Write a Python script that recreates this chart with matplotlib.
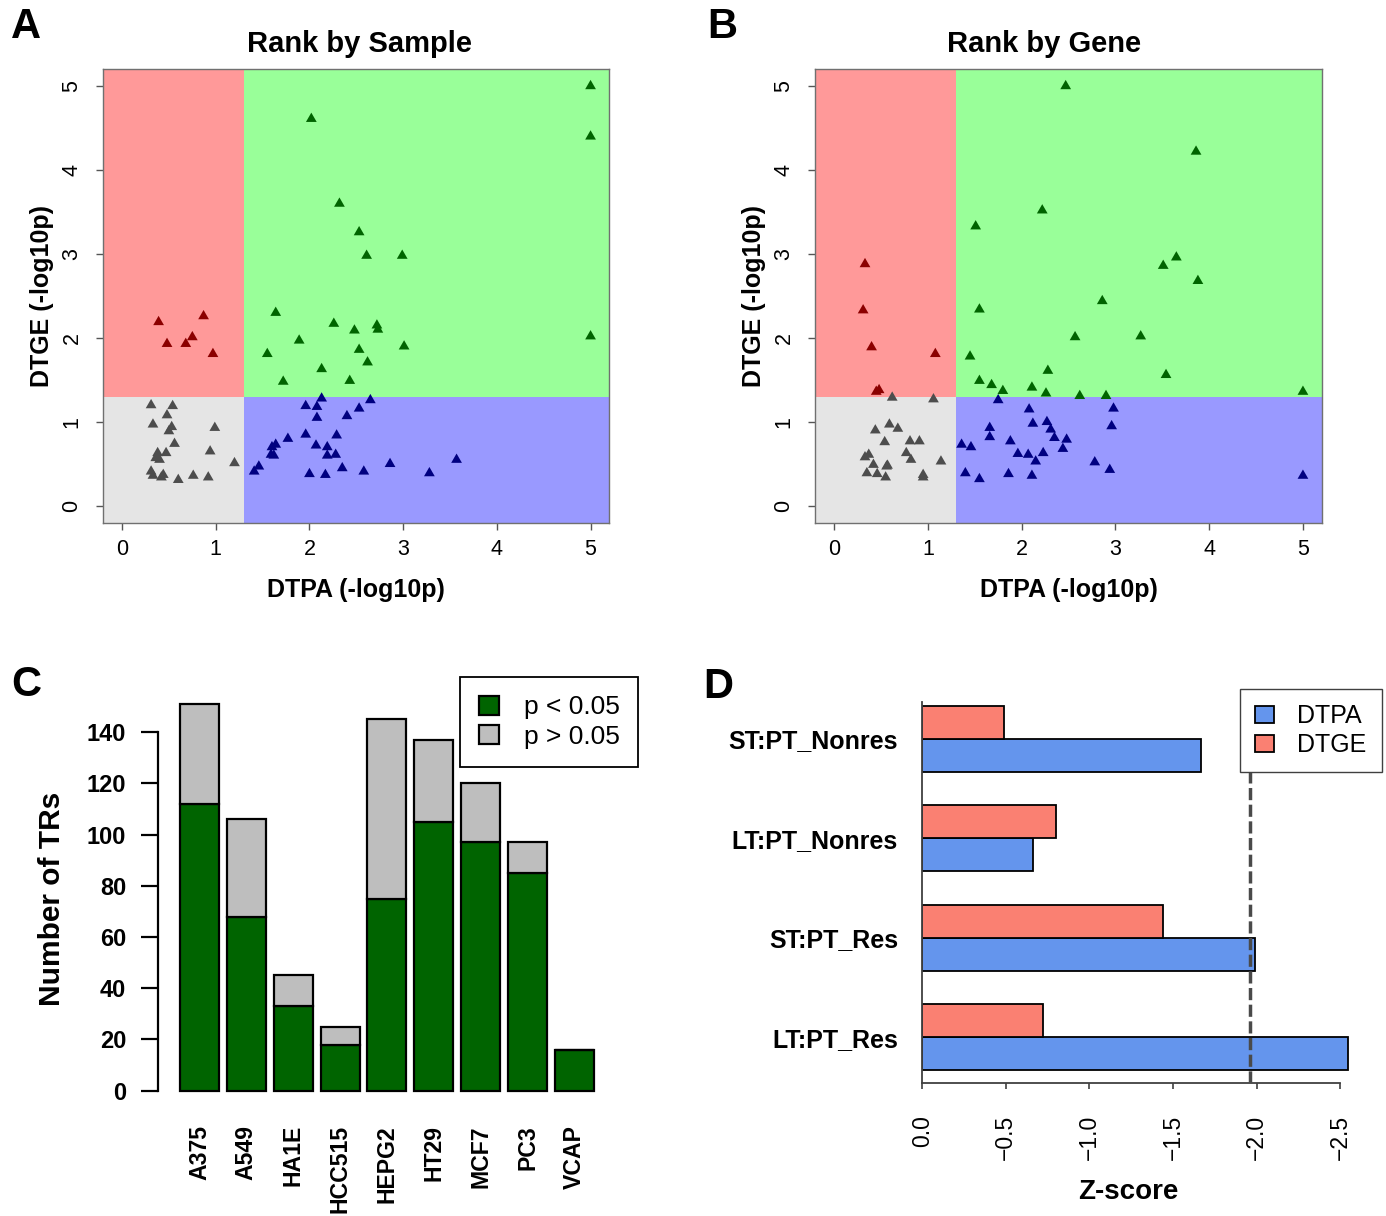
import numpy as np
import matplotlib
matplotlib.use('Agg')
import matplotlib.pyplot as plt
from matplotlib.patches import Rectangle, Patch

plt.rcParams['font.family'] = ['Liberation Sans', 'DejaVu Sans']

# ---- data: panel A (rank by sample), one pair of lists per quadrant
a_green_x = [5.00, 5.00, 2.02, 2.32, 2.53, 2.61, 2.99, 1.64, 2.26, 2.48, 2.72, 2.73, 1.89, 1.55, 2.53, 3.01, 5.00, 2.62, 2.13, 1.72, 2.43]
a_green_y = [5.00, 4.40, 4.61, 3.60, 3.26, 2.98, 2.98, 2.30, 2.17, 2.09, 2.15, 2.10, 1.97, 1.81, 1.86, 1.90, 2.02, 1.71, 1.63, 1.48, 1.49]
a_red_x = [0.39, 0.87, 0.48, 0.68, 0.75, 0.97]
a_red_y = [2.19, 2.26, 1.93, 1.93, 2.01, 1.81]
a_gray_x = [0.31, 0.54, 0.48, 0.33, 0.53, 0.50, 0.99, 0.56, 0.38, 0.47, 0.36, 0.40, 0.94, 1.20, 0.31, 0.33, 0.44, 0.42, 0.60, 0.76, 0.92]
a_gray_y = [1.20, 1.19, 1.08, 0.97, 0.94, 0.89, 0.93, 0.74, 0.63, 0.63, 0.57, 0.55, 0.65, 0.51, 0.41, 0.36, 0.37, 0.34, 0.31, 0.36, 0.34]
a_blue_x = [2.13, 2.65, 1.96, 2.08, 2.53, 2.08, 2.40, 1.96, 2.29, 1.77, 1.64, 1.60, 2.07, 2.19, 1.59, 1.62, 2.19, 2.28, 1.46, 1.41, 2.00, 2.17, 2.35, 2.58, 2.86, 3.28, 3.57]
a_blue_y = [1.28, 1.26, 1.19, 1.18, 1.16, 1.05, 1.07, 0.85, 0.84, 0.80, 0.73, 0.70, 0.72, 0.70, 0.61, 0.60, 0.60, 0.61, 0.47, 0.41, 0.38, 0.37, 0.45, 0.41, 0.50, 0.39, 0.55]

# ---- data: panel B (rank by gene)
b_green_x = [2.47, 3.86, 2.22, 1.51, 3.51, 3.65, 3.88, 2.86, 1.55, 2.57, 3.27, 1.45, 2.28, 3.54, 1.55, 1.68, 1.80, 2.11, 2.26, 2.62, 2.90, 5.00]
b_green_y = [5.00, 4.22, 3.52, 3.33, 2.86, 2.96, 2.68, 2.44, 2.34, 2.01, 2.02, 1.78, 1.61, 1.56, 1.49, 1.44, 1.37, 1.41, 1.34, 1.31, 1.31, 1.36]
b_red_x = [0.33, 0.31, 0.40, 1.08, 0.45, 0.48]
b_red_y = [2.88, 2.33, 1.89, 1.81, 1.36, 1.38]
b_gray_x = [0.62, 1.06, 0.59, 0.44, 0.68, 0.54, 0.81, 0.91, 0.37, 0.33, 0.77, 0.82, 0.42, 1.14, 0.56, 0.57, 0.35, 0.46, 0.55, 0.95, 0.95]
b_gray_y = [1.29, 1.27, 0.97, 0.90, 0.92, 0.76, 0.77, 0.77, 0.61, 0.58, 0.63, 0.55, 0.49, 0.53, 0.47, 0.48, 0.39, 0.38, 0.34, 0.37, 0.34]
b_blue_x = [1.75, 2.08, 2.98, 1.66, 2.12, 2.27, 2.31, 2.96, 1.66, 2.35, 2.48, 1.88, 1.36, 1.46, 2.44, 1.96, 2.07, 2.23, 2.15, 2.78, 2.94, 1.40, 1.55, 1.86, 2.11, 5.00]
b_blue_y = [1.26, 1.15, 1.16, 0.93, 0.98, 1.00, 0.91, 0.95, 0.82, 0.81, 0.79, 0.77, 0.73, 0.70, 0.68, 0.62, 0.61, 0.63, 0.53, 0.52, 0.43, 0.39, 0.32, 0.38, 0.36, 0.36]

# ---- data: panel C
cell_lines = ['A375', 'A549', 'HA1E', 'HCC515', 'HEPG2', 'HT29', 'MCF7', 'PC3', 'VCAP']
n_sig = [112, 68, 33, 18, 75, 105, 97, 85, 16]
n_total = [151, 106, 45, 25, 145, 137, 120, 97, 16]

# ---- data: panel D (top to bottom as shown)
comparisons = ['ST:PT_Nonres', 'LT:PT_Nonres', 'ST:PT_Res', 'LT:PT_Res']
z_dtpa = [-1.67, -0.66, -1.99, -2.55]
z_dtge = [-0.49, -0.80, -1.44, -0.72]
z_crit = -1.96

W, H = 1386, 1216


def px_box(left, top, right, bottom):
    return [left / W, 1 - bottom / H, (right - left) / W, (bottom - top) / H]


fig = plt.figure(figsize=(W / 100, H / 100), dpi=100)

thr = -np.log10(0.05)
lo, hi = -0.2, 5.2


def quadrant_panel(ax, groups, title, title_x):
    regions = [((lo, lo), '#e5e5e5'), ((lo, thr), '#ff9999'),
               ((thr, thr), '#99ff99'), ((thr, lo), '#9999ff')]
    for (x0, y0), col in regions:
        w = (thr - lo) if x0 == lo else (hi - thr)
        h = (thr - lo) if y0 == lo else (hi - thr)
        ax.add_patch(Rectangle((x0, y0), w, h, fc=col, ec='none', zorder=0))
    for xs, ys, col in groups:
        ax.scatter(xs, ys, marker=(3, 0, 0), s=80, c=col, edgecolors='none', zorder=3)
    ax.set_xlim(lo, hi)
    ax.set_ylim(lo, hi)
    ax.set_xticks(range(6))
    ax.set_yticks(range(6))
    for sp in ax.spines.values():
        sp.set_color('#707070')
        sp.set_linewidth(1.0)
    ax.tick_params(axis='both', colors='#555555', labelcolor='black', labelsize=15.5, length=5, width=1)
    ax.tick_params(axis='x', pad=7)
    ax.tick_params(axis='y', pad=10, labelrotation=90)
    for lab in ax.get_yticklabels():
        lab.set_va('center')
    ax.set_xlabel('DTPA (-log10p)', fontsize=18, fontweight='bold', va='center')
    ax.set_ylabel('DTGE (-log10p)', fontsize=18, fontweight='bold', va='center')
    ax.xaxis.set_label_coords(0.5, -0.148)
    ax.yaxis.set_label_coords(-0.122, 0.5)
    ax.set_title(title, fontsize=21, fontweight='bold', x=title_x, pad=12.5)


axa = fig.add_axes(px_box(103.3, 69.3, 609.3, 522.7))
quadrant_panel(axa, [(a_gray_x, a_gray_y, '#4d4d4d'), (a_red_x, a_red_y, '#8b0000'),
                     (a_green_x, a_green_y, '#006400'), (a_blue_x, a_blue_y, '#000080')],
               'Rank by Sample', 0.507)

axb = fig.add_axes(px_box(815.3, 69.3, 1321.7, 522.7))
quadrant_panel(axb, [(b_gray_x, b_gray_y, '#4d4d4d'), (b_red_x, b_red_y, '#8b0000'),
                     (b_green_x, b_green_y, '#006400'), (b_blue_x, b_blue_y, '#000080')],
               'Rank by Gene', 0.452)

# ---- panel C: stacked bars
axc = fig.add_axes(px_box(158.3, 677, 638, 1107))
pos = 0.2 + 1.2 * np.arange(len(cell_lines))
n_ns = np.array(n_total) - np.array(n_sig)
axc.bar(pos, n_sig, width=1, align='edge', color='#006400', edgecolor='black', linewidth=1.6)
axc.bar(pos, n_ns, bottom=n_sig, width=1, align='edge', color='#bebebe', edgecolor='black', linewidth=1.6)
axc.set_xlim(-0.356, 11.93)
axc.set_ylim(-6.37, 161.6)
for side in ['top', 'right', 'bottom']:
    axc.spines[side].set_visible(False)
axc.spines['left'].set_bounds(0, 140)
axc.spines['left'].set_linewidth(1.6)
axc.set_yticks(range(0, 141, 20))
axc.tick_params(axis='y', length=12, width=1.6, pad=11, labelsize=17)
for lab in axc.get_yticklabels():
    lab.set_fontweight('bold')
axc.set_xticks(pos + 0.5)
axc.set_xticklabels(cell_lines, rotation=90, fontsize=16.6, fontweight='bold')
axc.tick_params(axis='x', length=0, pad=13)
axc.set_ylabel('Number of TRs', fontsize=21.5, fontweight='bold', va='center')
axc.yaxis.set_label_coords(-0.222, 0.484)
legc = axc.legend(handles=[Patch(fc='#006400', ec='black', lw=1.6), Patch(fc='#bebebe', ec='black', lw=1.6)],
                  labels=['p < 0.05', 'p > 0.05'], loc='upper right', bbox_to_anchor=(1, 1),
                  borderaxespad=0, fancybox=False, edgecolor='black', framealpha=1,
                  fontsize=19, handlelength=0.75, handleheight=0.75, handletextpad=0.95,
                  borderpad=0.7, labelspacing=0.2)
legc.get_frame().set_linewidth(1.3)

# ---- panel D: grouped horizontal bars
axd = fig.add_axes(px_box(922.3, 689, 1381.7, 1083))
n = len(comparisons)
ybase = 1 + 3 * np.arange(n)[::-1]
axd.barh(ybase, z_dtpa, height=1, align='edge', color='#6495ed', edgecolor='black', linewidth=1.3, zorder=2)
axd.barh(ybase + 1, z_dtge, height=1, align='edge', color='#fa8072', edgecolor='black', linewidth=1.3, zorder=2)
axd.axvline(z_crit, color='#4a4a4a', linewidth=2.5, linestyle=(0, (3.5, 1.3)), zorder=4)
axd.set_xlim(0, -2.749)
axd.set_ylim(0.62, 12.5)
for side in ['top', 'right']:
    axd.spines[side].set_visible(False)
axd.spines['left'].set_bounds(0.62, 12.12)
axd.spines['bottom'].set_bounds(-2.5, 0)
for side in ['left', 'bottom']:
    axd.spines[side].set_color('#404040')
    axd.spines[side].set_linewidth(1.3)
xt = np.arange(0, -2.51, -0.5)
axd.set_xticks(xt)
axd.set_xticklabels([f'{v:.1f}'.replace('-', '\u2212') for v in xt], rotation=90, fontsize=16.5)
axd.tick_params(axis='x', length=4, width=1.2, pad=19, color='#404040')
axd.set_yticks(ybase + 1)
axd.set_yticklabels(comparisons, fontsize=18, fontweight='bold')
axd.tick_params(axis='y', length=0, pad=17.5)
axd.set_xlabel('Z-score', fontsize=20, fontweight='bold', va='center')
axd.xaxis.set_label_coords(0.448, -0.277)
legd = axd.legend(handles=[Patch(fc='#6495ed', ec='black', lw=1.3), Patch(fc='#fa8072', ec='black', lw=1.3)],
                  labels=['DTPA', 'DTGE'], loc='upper right', bbox_to_anchor=(1, 1),
                  borderaxespad=0, fancybox=False, edgecolor='#404040', framealpha=1,
                  fontsize=18, handlelength=0.73, handleheight=0.65, handletextpad=0.95,
                  borderpad=0.6, labelspacing=0.2)
legd.set_zorder(5)

# ---- panel letters
for letter, (px, py) in zip('ABCD', [(26, 27), (722, 27), (26, 685), (718, 687)]):
    fig.text(px / W, 1 - py / H, letter, ha='center', va='center', fontsize=30, fontweight='bold')

fig.savefig('out.png', dpi=100, facecolor='white')
